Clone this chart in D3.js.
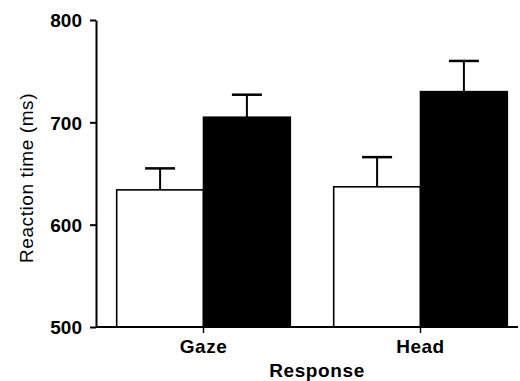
<!DOCTYPE html>
<html>
<head>
<meta charset="utf-8">
<script src="https://cdn.jsdelivr.net/npm/d3@7"></script>
<style>
  body { margin: 0; background: #fff; }
  text { font-family: "Liberation Sans", Arial, sans-serif; fill: #000; }
</style>
</head>
<body>
<script>
// data
const categories = ["Gaze", "Head"];
const conditions = ["open", "filled"];
const means = [[634, 705], [637, 730]];
const errors = [[21, 22], [29, 30]];
const yTicks = [500, 600, 700, 800];

const W = 520, H = 381;
const svg = d3.select("body").append("svg")
    .attr("width", W)
    .attr("height", H);

const y = d3.scaleLinear().domain([500, 800]).range([327, 20]);

const x0 = d3.scaleBand()
    .domain(categories)
    .range([95, 529])
    .paddingInner(0.2)
    .paddingOuter(0.1);

const x1 = d3.scaleBand()
    .domain(conditions)
    .range([0, x0.bandwidth()]);

const fills = { open: "#fff", filled: "#000" };

// bars
const groups = svg.selectAll("g.grp")
  .data(categories)
  .join("g")
    .attr("class", "grp")
    .attr("transform", d => `translate(${x0(d)},0)`);

groups.selectAll("rect")
  .data((d, i) => conditions.map((c, j) => ({ c, v: means[i][j], e: errors[i][j] })))
  .join("rect")
    .attr("x", d => x1(d.c))
    .attr("y", d => y(d.v))
    .attr("width", x1.bandwidth())
    .attr("height", d => y(500) - y(d.v))
    .attr("fill", d => fills[d.c])
    .attr("stroke", "#000")
    .attr("stroke-width", 1.6);

// error bars (upper only)
const eb = groups.selectAll("g.err")
  .data((d, i) => conditions.map((c, j) => ({ c, v: means[i][j], e: errors[i][j] })))
  .join("g")
    .attr("class", "err");

eb.append("line")
    .attr("x1", d => x1(d.c) + x1.bandwidth() / 2)
    .attr("x2", d => x1(d.c) + x1.bandwidth() / 2)
    .attr("y1", d => y(d.v))
    .attr("y2", d => y(d.v + d.e))
    .attr("stroke", "#000")
    .attr("stroke-width", 2);

eb.append("line")
    .attr("x1", d => x1(d.c) + x1.bandwidth() / 2 - 15)
    .attr("x2", d => x1(d.c) + x1.bandwidth() / 2 + 15)
    .attr("y1", d => y(d.v + d.e))
    .attr("y2", d => y(d.v + d.e))
    .attr("stroke", "#000")
    .attr("stroke-width", 2.5);

// y axis
const yAxis = svg.append("g")
    .attr("transform", "translate(96,0)")
    .call(d3.axisLeft(y).tickValues(yTicks).tickSize(6).tickSizeOuter(0).tickPadding(8));
yAxis.select(".domain").attr("stroke-width", 2);
yAxis.selectAll(".tick line").attr("stroke-width", 2);
yAxis.selectAll(".tick text")
    .attr("font-size", 19)
    .attr("font-weight", "bold")
    .attr("font-family", "Liberation Sans, Arial, sans-serif")
    .attr("fill", "#000")
    .attr("dy", "0.36em");

// x axis
const xAxis = svg.append("g")
    .attr("transform", "translate(0,327)");
xAxis.append("line")
    .attr("x1", 96).attr("x2", 518)
    .attr("stroke", "#000").attr("stroke-width", 2);
xAxis.selectAll("line.tk")
  .data(categories)
  .join("line")
    .attr("class", "tk")
    .attr("x1", d => x0(d) + x0.bandwidth() / 2)
    .attr("x2", d => x0(d) + x0.bandwidth() / 2)
    .attr("y1", 0).attr("y2", 6)
    .attr("stroke", "#000").attr("stroke-width", 1.5);
xAxis.selectAll("text")
  .data(categories)
  .join("text")
    .attr("x", d => x0(d) + x0.bandwidth() / 2)
    .attr("y", 26)
    .attr("text-anchor", "middle")
    .attr("font-size", 19)
    .attr("font-weight", "bold")
    .attr("fill", "#000")
    .style("letter-spacing", "0.5px")
    .text(d => d);

// axis titles
svg.append("text")
    .attr("x", 317)
    .attr("y", 377)
    .attr("text-anchor", "middle")
    .attr("font-size", 19)
    .attr("font-weight", "bold")
    .attr("fill", "#000")
    .style("letter-spacing", "0.6px")
    .text("Response");

svg.append("text")
    .attr("transform", "translate(33,178) rotate(-90)")
    .attr("text-anchor", "middle")
    .attr("font-size", 19)
    .attr("fill", "#000")
    .style("letter-spacing", "0.6px")
    .text("Reaction time (ms)");
</script>
</body>
</html>
